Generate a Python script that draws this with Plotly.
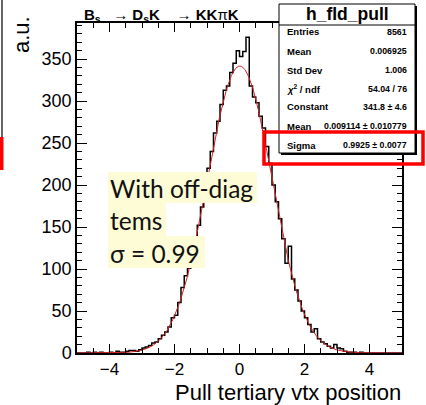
import numpy as np
import plotly.graph_objects as go

# ---------------- data ----------------
bin_low = -5.0
bin_high = 5.0
bin_counts = [
    0, 0, 0, 1, 0, 1, 0, 1, 0, 0,
    1, 0, 2, 1, 1, 2, 3, 3, 2, 4,
    6, 7, 9, 12, 13, 17, 21, 25, 31, 42,
    45, 60, 78, 92, 101, 120, 138, 152, 174, 196,
    220, 240, 262, 276, 296, 313, 318, 334, 345, 360,
    353, 359, 376, 318, 305, 298, 282, 268, 246, 226,
    200, 180, 160, 136, 107, 127, 88, 75, 62, 50,
    42, 34, 25, 29, 17, 13, 11, 8, 6, 10,
    6, 5, 2, 1, 1, 1, 0, 1, 0, 0,
    0, 0, 0, 0, 0, 0, 0, 0, 0, 0,
]
fit_constant = 341.8
fit_mean = 0.009114
fit_sigma = 0.9925

stat_labels = ["Entries", "Mean", "Std Dev", "<i>χ</i><sup>2</sup> / ndf",
               "Constant", "Mean", "Sigma"]
stat_values = ["8561", "0.006925", "1.006", "54.04 / 76",
               "341.8 ± 4.6", "0.009114 ± 0.010779", "0.9925 ± 0.0077"]
hist_name = "h_fld_pull"
y_ticks = [0, 50, 100, 150, 200, 250, 300, 350]
x_ticks = [-4, -2, 0, 2, 4]

# ---------------- geometry helpers ----------------
W, H = 426, 405
ML, MR, MT, MB = 77, 24, 23, 52
PW, PH = W - ML - MR, H - MT - MB


def px(x):
    return (x - ML) / PW


def py(y):
    return (H - MB - y) / PH


nb = len(bin_counts)
edges = np.linspace(bin_low, bin_high, nb + 1)
step_x = list(edges)
step_y = list(bin_counts) + [bin_counts[-1]]

xf = np.linspace(bin_low, bin_high, 801)
yf = fit_constant * np.exp(-0.5 * ((xf - fit_mean) / fit_sigma) ** 2)

fig = go.Figure()
fig.add_trace(go.Scatter(x=step_x, y=step_y, mode="lines",
                         line=dict(color="black", width=1.5, shape="hv"),
                         showlegend=False, hoverinfo="skip"))
fig.add_trace(go.Scatter(x=xf, y=yf, mode="lines",
                         line=dict(color="#d62020", width=1),
                         showlegend=False, hoverinfo="skip"))

FONT = "Liberation Sans, Arial, sans-serif"
fig.update_layout(
    width=W, height=H,
    margin=dict(l=ML, r=MR, t=MT, b=MB, autoexpand=False),
    paper_bgcolor="white", plot_bgcolor="white",
    font=dict(family=FONT, color="black"),
    showlegend=False,
)
fig.update_xaxes(
    range=[bin_low, bin_high], tickvals=x_ticks,
    ticktext=["\u2212" + str(-v) if v < 0 else str(v) for v in x_ticks],
    ticks="inside", ticklen=9, tickwidth=1, tickcolor="black",
    minor=dict(dtick=0.5, ticks="inside", ticklen=5, tickcolor="black", tickwidth=1),
    showline=True, linecolor="black", linewidth=1.5, mirror="allticks",
    showgrid=False, zeroline=False,
    tickfont=dict(size=17, family=FONT, color="black"),
)
fig.update_yaxes(
    range=[0, 393], tickvals=y_ticks,
    ticks="inside", ticklen=10, tickwidth=1, tickcolor="black",
    minor=dict(dtick=10, ticks="inside", ticklen=5, tickcolor="black", tickwidth=1),
    showline=True, linecolor="black", linewidth=1.5, mirror="allticks",
    showgrid=False, zeroline=False,
    tickfont=dict(size=18, family=FONT, color="black"),
)

shapes = []
ann = []

# left-edge fragments from neighbouring slide content
shapes.append(dict(type="line", xref="paper", yref="paper",
                   x0=px(2), x1=px(2), y0=py(0), y1=py(137),
                   line=dict(color="#333333", width=1.5), layer="above"))
shapes.append(dict(type="rect", xref="paper", yref="paper",
                   x0=px(-1), x1=px(3.5), y0=py(170), y1=py(137),
                   fillcolor="red", line=dict(width=0), layer="above"))

# yellow highlighted note
yellow = "#fdfcd6"
note_lines = ["With off-diag", "tems", "σ = 0.99"]
note_boxes = [(108, 257, 172, 203), (108, 166, 203, 236), (108, 205, 236, 268)]
for (x0, x1, y0, y1), t in zip(note_boxes, note_lines):
    shapes.append(dict(type="rect", xref="paper", yref="paper",
                       x0=px(x0), x1=px(x1), y0=py(y1), y1=py(y0),
                       fillcolor=yellow, line=dict(width=0), layer="above"))
    ann.append(dict(text=t, xref="paper", yref="paper", x=px(108), y=py((y0 + y1) / 2 + 1),
                    xanchor="left", yanchor="middle", showarrow=False,
                    font=dict(family="Lato, sans-serif", size=24.5, color="#111111")))

# stats box
bx0, bx1, by0, by1 = 279, 415, 4, 153
shapes.append(dict(type="rect", xref="paper", yref="paper",
                   x0=px(bx0 + 2), x1=px(bx1 + 2), y0=py(by1 + 2), y1=py(by0 + 2),
                   fillcolor="black", line=dict(width=0), layer="above"))
shapes.append(dict(type="rect", xref="paper", yref="paper",
                   x0=px(bx0), x1=px(bx1), y0=py(by1), y1=py(by0),
                   fillcolor="white", line=dict(color="black", width=1), layer="above"))
shapes.append(dict(type="line", xref="paper", yref="paper",
                   x0=px(bx0), x1=px(bx1), y0=py(25), y1=py(25),
                   line=dict(color="black", width=1), layer="above"))
ann.append(dict(text="<b>" + hist_name + "</b>", xref="paper", yref="paper",
                x=px((bx0 + bx1) / 2), y=py(14.5), xanchor="center", yanchor="middle",
                showarrow=False, font=dict(family=FONT, size=17.5, color="black")))
row_y = [32, 51, 70, 88.5, 107, 126, 145]
for lab, val, yy in zip(stat_labels, stat_values, row_y):
    ann.append(dict(text="<b>" + lab + "</b>", xref="paper", yref="paper",
                    x=px(285), y=py(yy), xanchor="left", yanchor="middle",
                    showarrow=False, font=dict(family=FONT, size=9.5, color="black")))
    ann.append(dict(text="<b>" + val + "</b>", xref="paper", yref="paper",
                    x=px(409), y=py(yy), xanchor="right", yanchor="middle",
                    showarrow=False, font=dict(family=FONT, size=8.8, color="black")))

# red highlight rectangle
shapes.append(dict(type="rect", xref="paper", yref="paper",
                   x0=px(264), x1=px(423), y0=py(164), y1=py(132),
                   line=dict(color="red", width=3.5), fillcolor="rgba(0,0,0,0)", layer="above"))

# title
ann.append(dict(text="<b>B<sub>s</sub></b>   → <b>D<sub>s</sub>K</b>    → <b>KK</b>π<b>K</b>",
                xref="paper", yref="paper", x=px(82), y=py(16), xanchor="left", yanchor="middle",
                showarrow=False, font=dict(family=FONT, size=15, color="black")))
# axis titles
ann.append(dict(text="Pull tertiary vtx position", xref="paper", yref="paper",
                x=px(403), y=py(392), xanchor="right", yanchor="middle",
                showarrow=False, font=dict(family=FONT, size=22, color="black")))
ann.append(dict(text="a.u.", xref="paper", yref="paper", textangle=-90,
                x=px(21), y=py(35), xanchor="center", yanchor="middle",
                showarrow=False, font=dict(family=FONT, size=22, color="black")))

fig.update_layout(shapes=shapes, annotations=ann)
fig.write_html("out.html")
